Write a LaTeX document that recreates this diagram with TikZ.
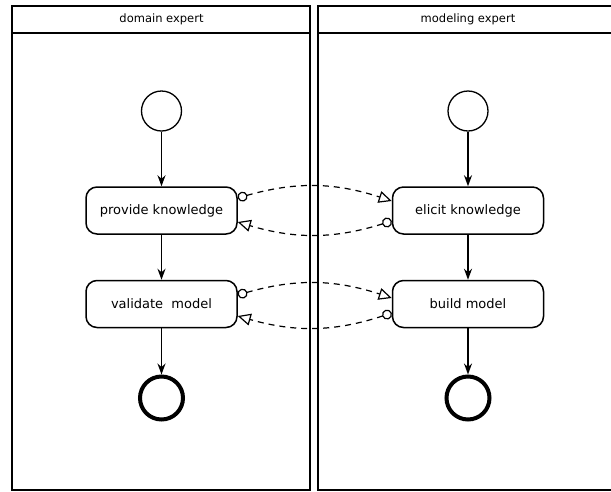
\documentclass[tikz,border=0pt]{standalone}
\usepackage{fontspec}
\setmainfont{DejaVu Sans}
\usetikzlibrary{arrows.meta}
\begin{document}
\begin{tikzpicture}[x=1pt,y=1pt,
 act/.style={draw, line width=1.5pt, rounded corners=11pt, minimum width=151pt, minimum height=47pt, font=\fontsize{13}{15}\selectfont, inner sep=0pt},
 startnode/.style={draw, circle, line width=1.3pt, minimum size=40pt, inner sep=0pt},
 endnode/.style={draw, circle, line width=4pt, minimum size=43pt, inner sep=0pt},
 flow/.style={line width=1.6pt, -{Stealth[length=11pt,width=8pt]}},
 msg/.style={line width=1.2pt, dash pattern=on 6pt off 5pt, {Circle[open,length=10pt,width=10pt,line width=1.2pt]}-{Triangle[open,length=13pt,width=12pt,line width=1.2pt]}},
 lane/.style={draw, line width=2pt},
 hdr/.style={font=\fontsize{11.5}{13}\selectfont}]
\useasboundingbox (0,0) rectangle (611,-491);
\begin{scope}
\clip (0,0) rectangle (611,-491);
% lanes
\draw[lane] (12,-6) rectangle (310,-490);
\draw[lane] (12,-33) -- (310,-33);
\draw[lane] (318,-6) rectangle (620,-490);
\draw[lane] (318,-33) -- (620,-33);
\node[hdr] (h1) at (161.5,-19.5) {domain expert};
\node[hdr] (h2) at (468,-19.5) {modeling expert};
% left lane
\node[startnode] (s1) at (161.5,-111) {};
\node[act] (pk) at (161.5,-210.5) {provide knowledge};
\node[act] (vm) at (161.5,-304) {validate\ \ model};
\node[endnode] (e1) at (161.5,-398) {};
% right lane
\node[startnode] (s2) at (468,-111) {};
\node[act] (ek) at (468,-210.5) {elicit knowledge};
\node[act] (bm) at (468,-304) {build model};
\node[endnode] (e2) at (468,-398) {};
% flows
\draw[flow] (s1) -- (pk);
\draw[flow] (pk) -- (vm);
\draw[flow] (vm) -- (e1);
\draw[flow] (s2) -- (ek);
\draw[flow] (ek) -- (bm);
\draw[flow] (bm) -- (e2);
% messages
\draw[msg] ([yshift=12.5pt]pk.east) to[bend left=17] ([yshift=9.5pt]ek.west);
\draw[msg] ([yshift=-10.5pt]ek.west) to[bend left=17] ([yshift=-11.5pt]pk.east);
\draw[msg] ([yshift=9pt]vm.east) to[bend left=17] ([yshift=6pt]bm.west);
\draw[msg] ([yshift=-9pt]bm.west) to[bend left=17] ([yshift=-12pt]vm.east);
\end{scope}
\end{tikzpicture}
\end{document}
